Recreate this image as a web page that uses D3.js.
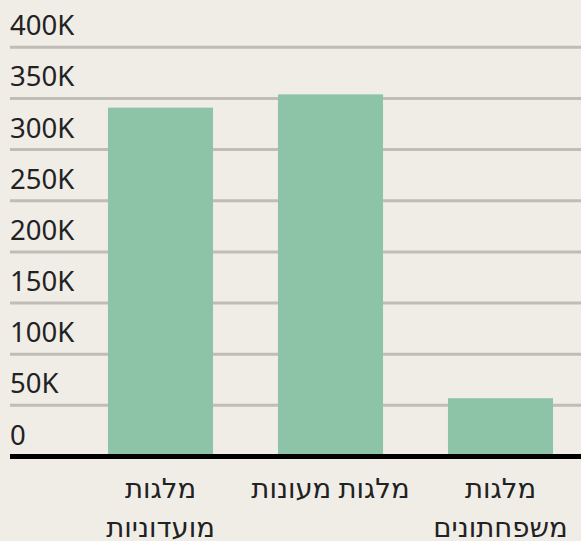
<!DOCTYPE html>
<html>
<head>
<meta charset="utf-8">
<script src="https://cdn.jsdelivr.net/npm/d3@7"></script>
<style>
  body { margin: 0; background: #f0ede7; }
  svg { display: block; font-family: "Noto Sans", "DejaVu Sans", sans-serif; }
</style>
</head>
<body>
<div id="chart"></div>
<script>
// data
var categories = ["מלגות מועדוניות", "מלגות מעונות", "מלגות משפחתונים"];
var values = [341000, 354000, 57000];
var ticks = [0, 50000, 100000, 150000, 200000, 250000, 300000, 350000, 400000];

var width = 581, height = 541;

var svg = d3.select("#chart")
    .append("svg")
    .attr("width", width)
    .attr("height", height);

svg.append("rect")
    .attr("width", width)
    .attr("height", height)
    .attr("fill", "#f0ede7");

// scales
var y = d3.scaleLinear().domain([0, 400000]).range([456.5, 47.3]);
var x = d3.scaleBand().domain(categories).range([75.5, 585.5]).paddingInner(0.382).paddingOuter(0.191);

// gridlines + tick labels
var grid = svg.append("g").attr("class", "grid");
grid.selectAll("line")
    .data(ticks.filter(function(d) { return d > 0; }))
    .enter()
    .append("line")
    .attr("x1", 10)
    .attr("x2", width)
    .attr("y1", function(d) { return y(d); })
    .attr("y2", function(d) { return y(d); })
    .attr("stroke", "#c0bdb7")
    .attr("stroke-width", 3);

grid.selectAll("text")
    .data(ticks)
    .enter()
    .append("text")
    .attr("x", 10)
    .attr("y", function(d) { return y(d) - 12; })
    .attr("font-size", 27.5)
    .attr("fill", "#222")
    .text(function(d) { return d === 0 ? "0" : (d / 1000) + "K"; });

// bars
svg.append("g")
    .selectAll("rect")
    .data(values)
    .enter()
    .append("rect")
    .attr("x", function(d, i) { return x(categories[i]); })
    .attr("width", x.bandwidth())
    .attr("y", function(d) { return y(d); })
    .attr("height", function(d) { return y(0) - y(d); })
    .attr("fill", "#8dc4a8");

// baseline
svg.append("line")
    .attr("x1", 10)
    .attr("x2", width)
    .attr("y1", y(0))
    .attr("y2", y(0))
    .attr("stroke", "#000")
    .attr("stroke-width", 5);

// category labels, wrapped by word
var labels = svg.append("g")
    .selectAll("text")
    .data(categories)
    .enter()
    .append("text")
    .attr("direction", "rtl")
    .attr("text-anchor", "middle")
    .attr("font-size", 27.5)
    .attr("fill", "#222")
    .attr("x", function(d) { return x(d) + x.bandwidth() / 2; })
    .attr("y", 498);

labels.each(function(d) {
    var el = d3.select(this);
    var cx = +el.attr("x");
    var words = d.split(" ");
    var lines = [], cur = [];
    var probe = el.append("tspan");
    words.forEach(function(w) {
        var test = cur.concat([w]).join(" ");
        probe.text(test);
        if (probe.node().getComputedTextLength() > 170 && cur.length) {
            lines.push(cur.join(" "));
            cur = [w];
        } else {
            cur.push(w);
        }
    });
    lines.push(cur.join(" "));
    probe.remove();
    lines.forEach(function(l, i) {
        el.append("tspan")
            .attr("x", cx)
            .attr("dy", i === 0 ? 0 : 39)
            .text(l);
    });
});
</script>
</body>
</html>
